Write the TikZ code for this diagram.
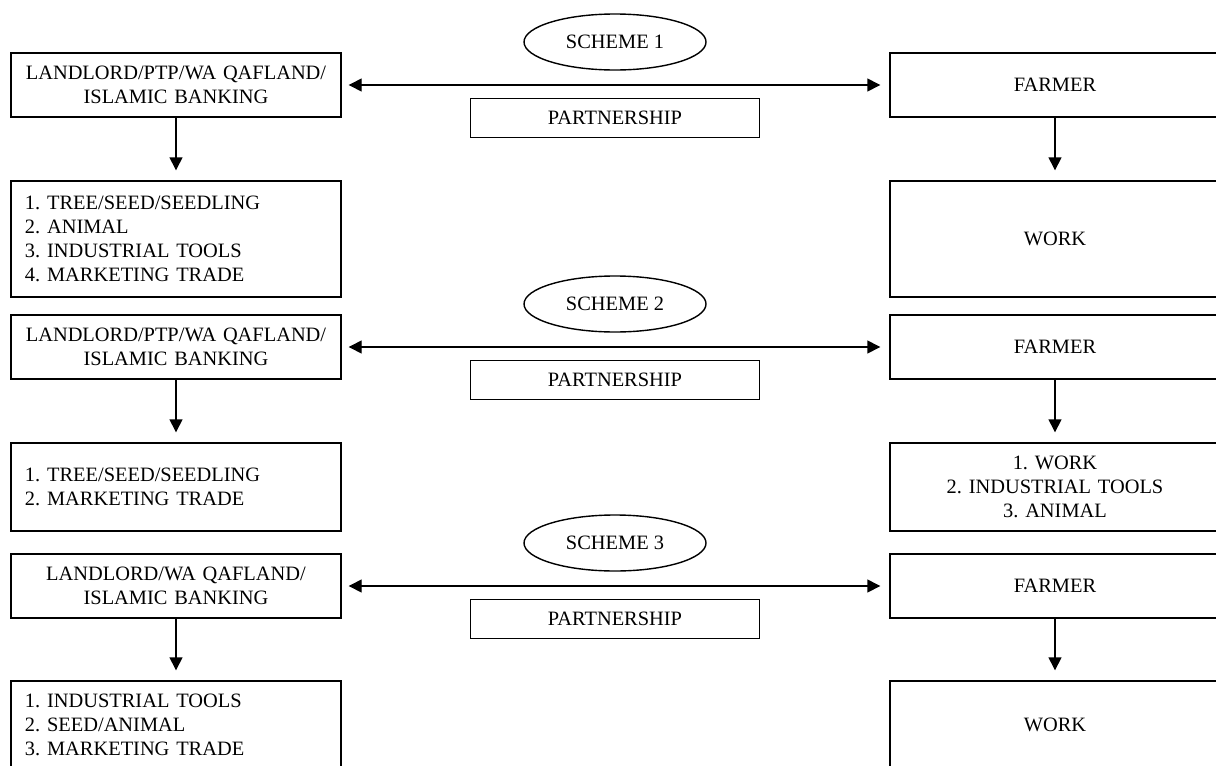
\documentclass[tikz,border=0pt]{standalone}
\usepackage{fontspec}
\setmainfont{Liberation Serif}
\frenchspacing
\usetikzlibrary{arrows.meta,shapes.geometric}

\begin{document}
\begin{tikzpicture}[
    x=0.5pt, y=-0.5pt,
    txt/.style={font=\fontsize{10.2}{12}\selectfont},
    box/.style={txt, draw, line width=0.7pt, inner xsep=7pt, inner ysep=0pt,
        text width=151pt},
    headbox/.style={box, align=center, minimum height=32pt},
    listbox/.style={box, align=left},
    centbox/.style={box, align=center},
    scheme/.style={txt, draw, ellipse, line width=0.7pt, inner sep=0pt,
        minimum width=91pt, minimum height=28pt},
    tag/.style={txt, draw, line width=0.7pt, inner sep=0pt,
        minimum width=144.5pt, minimum height=19.5pt},
    link/.style={line width=0.7pt,
        {Triangle[length=6.5pt,width=6.5pt]}-{Triangle[length=6.5pt,width=6.5pt]},
        shorten <=3.5pt, shorten >=4.5pt},
    down/.style={line width=0.7pt, -{Triangle[length=6.5pt,width=6.5pt]},
        shorten >=5pt},
]

\def\lx{176}   % centre of the left column
\def\rx{1055}  % centre of the right column
\def\mx{615}   % centre of the middle column

\useasboundingbox (0,0) rectangle (1216,766);

% ── Scheme 1 ────────────────────────────────────────────────
\node[headbox] (lord1) at (\lx, 85) {LANDLORD/PTP/WA QAFLAND/\\ISLAMIC BANKING};
\node[headbox] (farm1) at (\rx, 85) {FARMER};
\node[listbox, minimum height=58pt] (give1) at (\lx, 239)
    {1. TREE/SEED/SEEDLING\\2. ANIMAL\\3. INDUSTRIAL TOOLS\\4. MARKETING TRADE};
\node[centbox, minimum height=58pt] (take1) at (\rx, 239) {WORK};

% ── Scheme 2 ────────────────────────────────────────────────
\node[headbox] (lord2) at (\lx, 347) {LANDLORD/PTP/WA QAFLAND/\\ISLAMIC BANKING};
\node[headbox] (farm2) at (\rx, 347) {FARMER};
\node[listbox, minimum height=44pt] (give2) at (\lx, 487)
    {1. TREE/SEED/SEEDLING\\2. MARKETING TRADE};
\node[centbox, minimum height=44pt] (take2) at (\rx, 487)
    {1. WORK\\2. INDUSTRIAL TOOLS\\3. ANIMAL};

% ── Scheme 3 ────────────────────────────────────────────────
\node[headbox] (lord3) at (\lx, 586) {LANDLORD/WA QAFLAND/\\ISLAMIC BANKING};
\node[headbox] (farm3) at (\rx, 586) {FARMER};
\node[listbox, minimum height=44pt] (give3) at (\lx, 725)
    {1. INDUSTRIAL TOOLS\\2. SEED/ANIMAL\\3. MARKETING TRADE};
\node[centbox, minimum height=44pt] (take3) at (\rx, 725) {WORK};

% ── Scheme labels, partnership tags and arrows ──────────────
\foreach \k/\y in {1/85, 2/347, 3/586} {
    \node[scheme] (sch\k) at (\mx, {\y-43}) {SCHEME \k};
    \node[tag] (tag\k) at (\mx, {\y+33}) {PARTNERSHIP};
    \draw[link] (lord\k.east) -- (farm\k.west);
    \draw[down] (lord\k) -- (give\k);
    \draw[down] (farm\k) -- (take\k);
}

\end{tikzpicture}
\end{document}
